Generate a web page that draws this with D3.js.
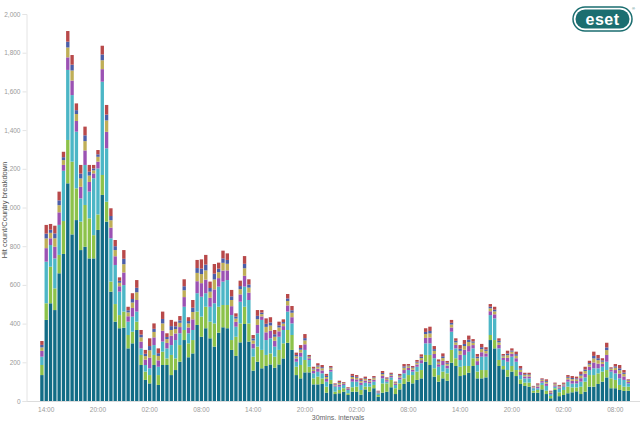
<!DOCTYPE html>
<html>
<head>
<meta charset="utf-8">
<script src="https://cdn.jsdelivr.net/npm/d3@7"></script>
<style>
body { margin: 0; background: #fff; }
#vis { width: 640px; height: 425px; }
svg { display: block; font-family: Arial, "Liberation Sans", sans-serif; }
</style>
</head>
<body>
<div id="vis"></div>
<script>
// 30 minute slots, first bar starts at 13:30
var startHour = 13.5;
var slotCount = 137;
var tickLabels = ["02:00", "08:00", "14:00", "20:00"];

// hit counts per country
var teal = [134,419,505,470,660,760,1125,861,935,780,797,737,737,884,1065,927,565,410,376,379,272,298,367,186,109,91,186,83,186,186,134,
  160,203,315,226,246,393,332,376,324,281,353,381,376,264,233,303,398,307,157,203,169,181,189,172,189,220,301,264,134,117,148,148,86,86,88,43,
  88,36,40,48,31,48,48,33,60,48,66,22,43,48,71,36,60,88,100,91,109,117,203,186,126,100,117,105,198,181,129,134,146,181,117,117,
  122,315,272,181,164,126,152,129,88,78,74,43,43,60,36,14,57,25,31,40,45,50,36,48,74,74,88,100,122,66,66,57,52,53];

var green = [52,86,189,112,95,170,224,376,164,147,216,207,120,80,103,103,52,91,68,83,69,60,43,52,43,43,52,51,69,34,104,
  60,86,52,72,69,69,104,111,86,120,134,115,120,51,99,98,89,94,72,78,95,57,57,57,75,78,66,77,43,69,64,29,31,40,29,31,
  21,12,17,18,9,23,26,24,14,26,17,9,48,43,38,30,31,29,34,43,43,43,35,52,43,34,35,38,66,40,48,47,35,40,35,43,
  38,26,43,31,17,34,29,31,24,17,21,10,14,23,17,12,9,20,26,34,25,20,38,52,60,60,55,52,38,51,43,26,22,21];

var cyan = [43,215,112,155,155,260,362,344,293,120,207,138,294,238,482,276,224,202,121,137,69,78,52,34,34,35,51,43,52,52,51,
  95,61,120,52,52,95,103,70,77,104,104,121,129,129,52,112,104,121,43,69,155,77,78,52,68,69,95,60,26,43,52,35,26,25,26,26,
  43,26,17,17,17,29,26,26,21,17,17,9,26,9,13,17,21,26,26,18,25,35,60,60,52,43,34,26,94,51,35,57,74,51,34,69,
  69,103,112,60,31,43,48,43,22,22,22,13,9,12,25,10,8,18,17,26,20,21,26,22,26,35,26,25,43,35,34,34,35,17];

var purple = [30,70,35,60,65,30,65,75,55,60,75,50,25,35,65,85,55,45,28,65,28,45,60,35,28,55,40,33,56,28,48,
  34,32,50,30,55,62,70,70,46,72,44,57,50,46,25,38,56,38,24,43,18,40,39,30,28,20,32,32,17,21,29,9,12,16,15,14,
  10,6,11,5,5,14,12,12,11,8,10,5,13,8,8,6,10,17,11,10,12,16,28,30,22,13,21,14,22,18,27,27,29,17,20,23,
  17,20,21,18,11,20,15,18,16,10,10,4,9,8,12,6,7,7,7,12,14,12,18,19,17,30,24,15,35,8,17,24,18,7];

var olive = [18,50,28,44,37,25,51,52,36,43,48,33,16,25,46,59,38,32,18,43,20,28,40,22,18,38,28,23,38,20,30,
  23,22,35,21,38,43,47,48,32,51,31,40,34,32,17,27,39,26,17,30,12,28,27,21,20,13,23,23,11,15,20,6,8,11,11,10,
  8,4,8,4,3,10,8,9,8,6,8,3,9,6,6,4,7,12,8,8,9,11,20,21,16,9,15,9,15,13,20,19,21,12,15,16,
  13,15,15,13,8,14,11,13,12,8,7,3,6,6,9,4,6,5,5,8,9,9,13,14,12,21,18,11,25,6,12,18,13,6];

var blue = [13,25,16,25,25,15,30,30,20,25,30,20,10,13,30,30,22,20,10,28,11,18,23,14,12,22,16,14,23,11,20,
  14,13,21,12,22,25,28,30,19,30,18,23,20,19,10,16,23,16,10,17,8,16,16,13,11,8,13,13,7,9,12,4,5,6,6,6,
  4,3,4,2,2,6,5,5,4,3,4,2,6,3,4,3,4,7,4,4,5,7,11,13,9,6,9,6,9,8,11,11,12,7,8,10,
  7,8,9,8,4,8,6,8,7,4,4,2,4,3,5,3,3,3,3,5,6,5,8,8,7,13,10,7,14,3,7,10,7,3];

var red = [20,45,30,40,45,28,55,50,35,45,45,35,18,22,45,50,40,32,18,45,18,30,40,24,20,40,28,25,38,19,32,
  24,22,36,20,40,42,48,50,33,50,31,40,34,33,17,28,40,27,18,30,13,28,27,22,19,14,23,22,12,15,21,7,9,11,11,10,
  7,4,8,4,4,10,9,8,8,6,7,3,10,5,6,4,7,12,8,7,9,12,19,22,16,10,15,9,15,13,19,20,21,12,14,17,
  12,14,15,13,8,15,11,13,12,7,8,3,6,5,8,4,5,5,6,9,10,9,13,14,12,22,17,11,24,5,12,17,13,5];

var keys = ["teal", "green", "cyan", "purple", "olive", "blue", "red"];
var colors = {
  teal: "#126c86", green: "#8cc24a", cyan: "#4cb6c6", purple: "#9b52b3",
  olive: "#bfae57", blue: "#4c5ea8", red: "#b8494a"
};

var slotTime = function(i) {
  var h = startHour + i * 0.5;
  var hh = Math.floor(h) % 24, mm = (h % 1) ? "30" : "00";
  return (hh < 10 ? "0" : "") + hh + ":" + mm;
};

var rows = d3.range(slotCount).map(function(i) {
  return { slot: i, teal: teal[i], green: green[i], cyan: cyan[i], purple: purple[i],
           olive: olive[i], blue: blue[i], red: red[i] };
});

var width = 640, height = 425;

var svg = d3.select("#vis")
    .append("svg")
    .attr("width", width)
    .attr("height", height);

var xscale = d3.scaleBand()
    .domain(d3.range(slotCount))
    .range([39.8, 630.4])
    .paddingInner(0.22)
    .paddingOuter(0.1);

var yscale = d3.scaleLinear()
    .domain([0, 2000])
    .range([401, 14]);

// x baseline and y axis line
svg.append("line")
    .attr("x1", 26).attr("x2", 640)
    .attr("y1", 401.5).attr("y2", 401.5)
    .attr("stroke", "#dcdcdc");

var yaxis = d3.axisLeft(yscale)
    .tickValues(d3.range(0, 2001, 200))
    .tickFormat(d3.format(","))
    .tickSize(4)
    .tickPadding(2);

var yg = svg.append("g")
    .attr("class", "y axis")
    .attr("transform", "translate(26.5,0)")
    .call(yaxis);
yg.select(".domain").attr("stroke", "#e4e4e4");
yg.selectAll(".tick line").attr("stroke", "#e4e4e4");
yg.selectAll("text").attr("fill", "#9a9a9a").style("font-size", "6.5px");

var xaxis = d3.axisBottom(xscale)
    .tickValues(d3.range(slotCount).filter(function(i) {
      return tickLabels.indexOf(slotTime(i)) >= 0;
    }))
    .tickFormat(slotTime)
    .tickSize(0)
    .tickPadding(5);

var xg = svg.append("g")
    .attr("class", "x axis")
    .attr("transform", "translate(0,402)")
    .call(xaxis);
xg.select(".domain").remove();
xg.selectAll("text").attr("fill", "#9a9a9a").style("font-size", "6.5px");

var series = d3.stack().keys(keys)(rows);

svg.append("g")
  .selectAll("g")
  .data(series)
  .enter().append("g")
    .attr("fill", function(d) { return colors[d.key]; })
  .selectAll("rect")
  .data(function(d) { return d; })
  .enter().append("rect")
    .attr("x", function(d) { return xscale(d.data.slot); })
    .attr("y", function(d) { return yscale(d[1]); })
    .attr("height", function(d) { return yscale(d[0]) - yscale(d[1]); })
    .attr("width", xscale.bandwidth());

svg.append("text")
    .attr("transform", "translate(7,210) rotate(-90)")
    .style("text-anchor", "middle")
    .style("font-size", "7.5px")
    .attr("fill", "#555")
    .text("Hit count/Country breakdown");

svg.append("text")
    .attr("x", 338)
    .attr("y", 420)
    .style("text-anchor", "middle")
    .style("font-size", "7px")
    .attr("fill", "#666")
    .text("30mins. intervals");

// ESET logo
var logo = svg.append("g").attr("transform", "translate(573,7)");
logo.append("rect")
    .attr("width", 59).attr("height", 24).attr("rx", 12)
    .attr("fill", "#fff").attr("stroke", "#1b6e70").attr("stroke-width", 1.5);
logo.append("rect")
    .attr("x", 2.5).attr("y", 2.5).attr("width", 54).attr("height", 19).attr("rx", 9.5)
    .attr("fill", "#1b6e70");
logo.append("text")
    .attr("x", 29.5).attr("y", 17.5)
    .style("text-anchor", "middle")
    .style("font-size", "16px")
    .style("font-weight", "bold")
    .style("letter-spacing", "0.5px")
    .attr("fill", "#fff")
    .text("eset");
logo.append("text")
    .attr("x", 59).attr("y", 3)
    .style("font-size", "4px")
    .attr("fill", "#1b6e70")
    .text("®");
</script>
</body>
</html>
